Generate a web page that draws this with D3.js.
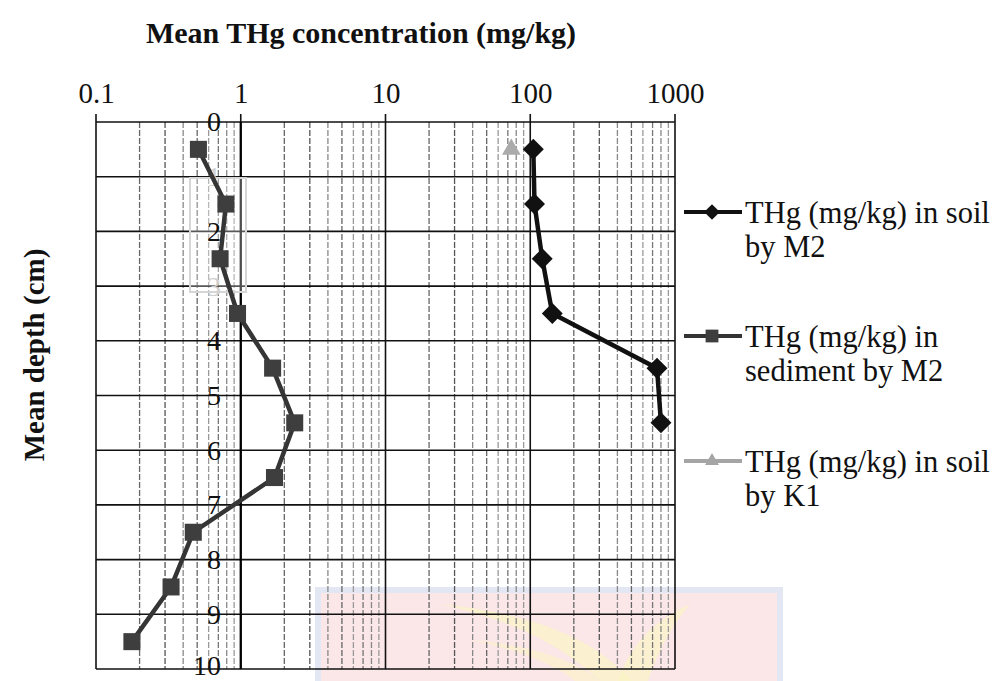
<!DOCTYPE html>
<html><head><meta charset="utf-8">
<script src="https://cdn.jsdelivr.net/npm/d3@7"></script>
<style>body{margin:0;background:#fff;}svg{display:block;}</style>
</head><body>
<svg id="c" width="996" height="681"></svg>
<script>
const depthTicks = [0,1,2,3,4,5,6,7,8,9,10];
const concTicks = [0.1,1,10,100,1000];
const concTickLabels = ["0.1","1","10","100","1000"];
const sedDepth = [0.5,1.5,2.5,3.5,4.5,5.5,6.5,7.5,8.5,9.5];
const sedM2 = [0.51,0.79,0.72,0.95,1.66,2.36,1.71,0.47,0.33,0.177];
const soilDepth = [0.5,1.5,2.5,3.5,4.5,5.5];
const soilM2 = [105,107,121,142,751,800];
const k1Depth = [0.5];
const soilK1 = [74];
const legendLabels = [["THg (mg/kg) in soil","by M2"],["THg (mg/kg) in","sediment by M2"],["THg (mg/kg) in soil","by K1"]];

const svg = d3.select("#c");
const L=96,R=675,T=122,B=669;
const x = d3.scaleLog().domain([0.1,1000]).range([L,R]);
const y = d3.scaleLinear().domain([0,10]).range([T,B]);
const serif = "'Liberation Serif','Times New Roman',serif";

// watermark
svg.append("rect").attr("x",318).attr("y",590).attr("width",462).attr("height",95)
  .attr("fill","#fbe6e8").attr("stroke","#e3e7f3").attr("stroke-width",6);
svg.append("path").attr("d","M440,604 C520,622 565,648 600,681 L632,681 C598,642 540,614 440,604 Z").attr("fill","#fbf3c4").attr("opacity",0.7);
svg.append("path").attr("d","M470,640 C520,650 555,665 575,681 L600,681 C575,660 530,645 470,640 Z").attr("fill","#fbf3c4").attr("opacity",0.6);
svg.append("path").attr("d","M690,604 C650,622 628,650 618,681 L648,681 C658,652 670,628 690,604 Z").attr("fill","#fbf3c4").attr("opacity",0.7);

// minor vertical gridlines
const minor=[];
for(let d=0.1; d<1000; d*=10){ for(let k=2;k<=9;k++) minor.push(+(d*k).toPrecision(3)); }
svg.append("g").selectAll("line").data(minor).join("line")
  .attr("x1",d=>x(d)).attr("x2",d=>x(d)).attr("y1",T).attr("y2",B)
  .attr("stroke",(d,i)=>["#666","#555","#888","#666","#999","#777","#888","#999"][i%8])
  .attr("stroke-width",1.3).attr("stroke-dasharray","6,2");

// major vertical gridlines
svg.append("g").selectAll("line").data(concTicks).join("line")
  .attr("x1",d=>x(d)).attr("x2",d=>x(d)).attr("y1",T-8).attr("y2",B)
  .attr("stroke","#111").attr("stroke-width",1.6);
// horizontal gridlines
svg.append("g").selectAll("line").data(depthTicks).join("line")
  .attr("x1",L).attr("x2",R).attr("y1",d=>y(d)).attr("y2",d=>y(d))
  .attr("stroke","#111").attr("stroke-width",1.6);
// y axis at x=1 (thicker)
svg.append("line").attr("x1",x(1)).attr("x2",x(1)).attr("y1",T).attr("y2",B).attr("stroke","#000").attr("stroke-width",2.2);

// selection box artifact
svg.append("rect").attr("x",190).attr("y",178).attr("width",56).attr("height",114)
  .attr("fill","#fff").attr("fill-opacity",0.3).attr("stroke","#d6d6d6").attr("stroke-width",2);

// top axis labels
const xAxis = d3.axisTop(x).tickValues(concTicks).tickFormat((d,i)=>concTickLabels[i]).tickSize(0).tickPadding(19);
const gx = svg.append("g").attr("transform",`translate(0,${T})`).call(xAxis);
gx.select(".domain").remove();
gx.selectAll("text").attr("font-family",serif).attr("font-size",29).attr("fill","#111");

// y axis labels
const yAxis = d3.axisLeft(y).tickValues(depthTicks).tickSize(0).tickPadding(0);
const gy = svg.append("g").attr("transform","translate(221,0)").call(yAxis);
gy.select(".domain").remove();
gy.selectAll("text").attr("font-family",serif).attr("font-size",28)
  .attr("dy",d=>d===10?"0.18em":"0.32em")
  .attr("fill",d=>(d===1||d===3)?"#cfcfcf":"#111");

// titles
svg.append("text").attr("x",361).attr("y",43).attr("text-anchor","middle")
  .attr("font-family",serif).attr("font-weight","bold").attr("font-size",30).attr("fill","#111")
  .text("Mean THg concentration (mg/kg)");
svg.append("text").attr("transform","translate(44,355) rotate(-90)").attr("text-anchor","middle")
  .attr("font-family",serif).attr("font-weight","bold").attr("font-size",29).attr("fill","#111")
  .text("Mean depth (cm)");

const line = d3.line().x(d=>x(d[0])).y(d=>y(d[1]));
const sedPts = sedM2.map((v,i)=>[v,sedDepth[i]]);
const soilPts = soilM2.map((v,i)=>[v,soilDepth[i]]);
const k1Pts = soilK1.map((v,i)=>[v,k1Depth[i]]);

const sqSym = d3.symbol().type(d3.symbolSquare).size(290);
const diSym = d3.symbol().type(d3.symbolDiamond2).size(280);
const trSym = d3.symbol().type(d3.symbolTriangle).size(150);

// sediment
svg.append("path").datum(sedPts).attr("d",line).attr("fill","none").attr("stroke","#353535").attr("stroke-width",4.5);
svg.append("g").selectAll("path").data(sedPts).join("path")
  .attr("transform",d=>`translate(${x(d[0])},${y(d[1])})`).attr("d",sqSym).attr("fill","#3e3e3e");
// soil M2
svg.append("path").datum(soilPts).attr("d",line).attr("fill","none").attr("stroke","#111").attr("stroke-width",4.5);
svg.append("g").selectAll("path").data(soilPts).join("path")
  .attr("transform",d=>`translate(${x(d[0])},${y(d[1])})`).attr("d",diSym).attr("fill","#111");
// K1
svg.append("g").selectAll("path").data(k1Pts).join("path")
  .attr("transform",d=>`translate(${x(d[0])},${y(d[1])})`).attr("d",trSym).attr("fill","#ababab");

// legend
const legY=[212,336,461];
const legSyms=[[diSym,"#111","#111"],[sqSym,"#3e3e3e","#333"],[trSym,"#a5a5a5","#a5a5a5"]];
const lg = svg.append("g");
legendLabels.forEach((lab,i)=>{
  const g = lg.append("g").attr("transform",`translate(0,${legY[i]})`);
  g.append("line").attr("x1",684).attr("x2",742).attr("y1",0).attr("y2",0).attr("stroke",legSyms[i][2]).attr("stroke-width",4);
  g.append("path").attr("transform","translate(712,0) scale(0.75)").attr("d",legSyms[i][0]).attr("fill",legSyms[i][1]);
  g.append("text").attr("x",745).attr("y",11).attr("font-family",serif).attr("font-size",30.5).attr("fill","#111").text(lab[0]);
  g.append("text").attr("x",745).attr("y",45).attr("font-family",serif).attr("font-size",30.5).attr("fill","#111").text(lab[1]);
});
</script>
</body></html>
